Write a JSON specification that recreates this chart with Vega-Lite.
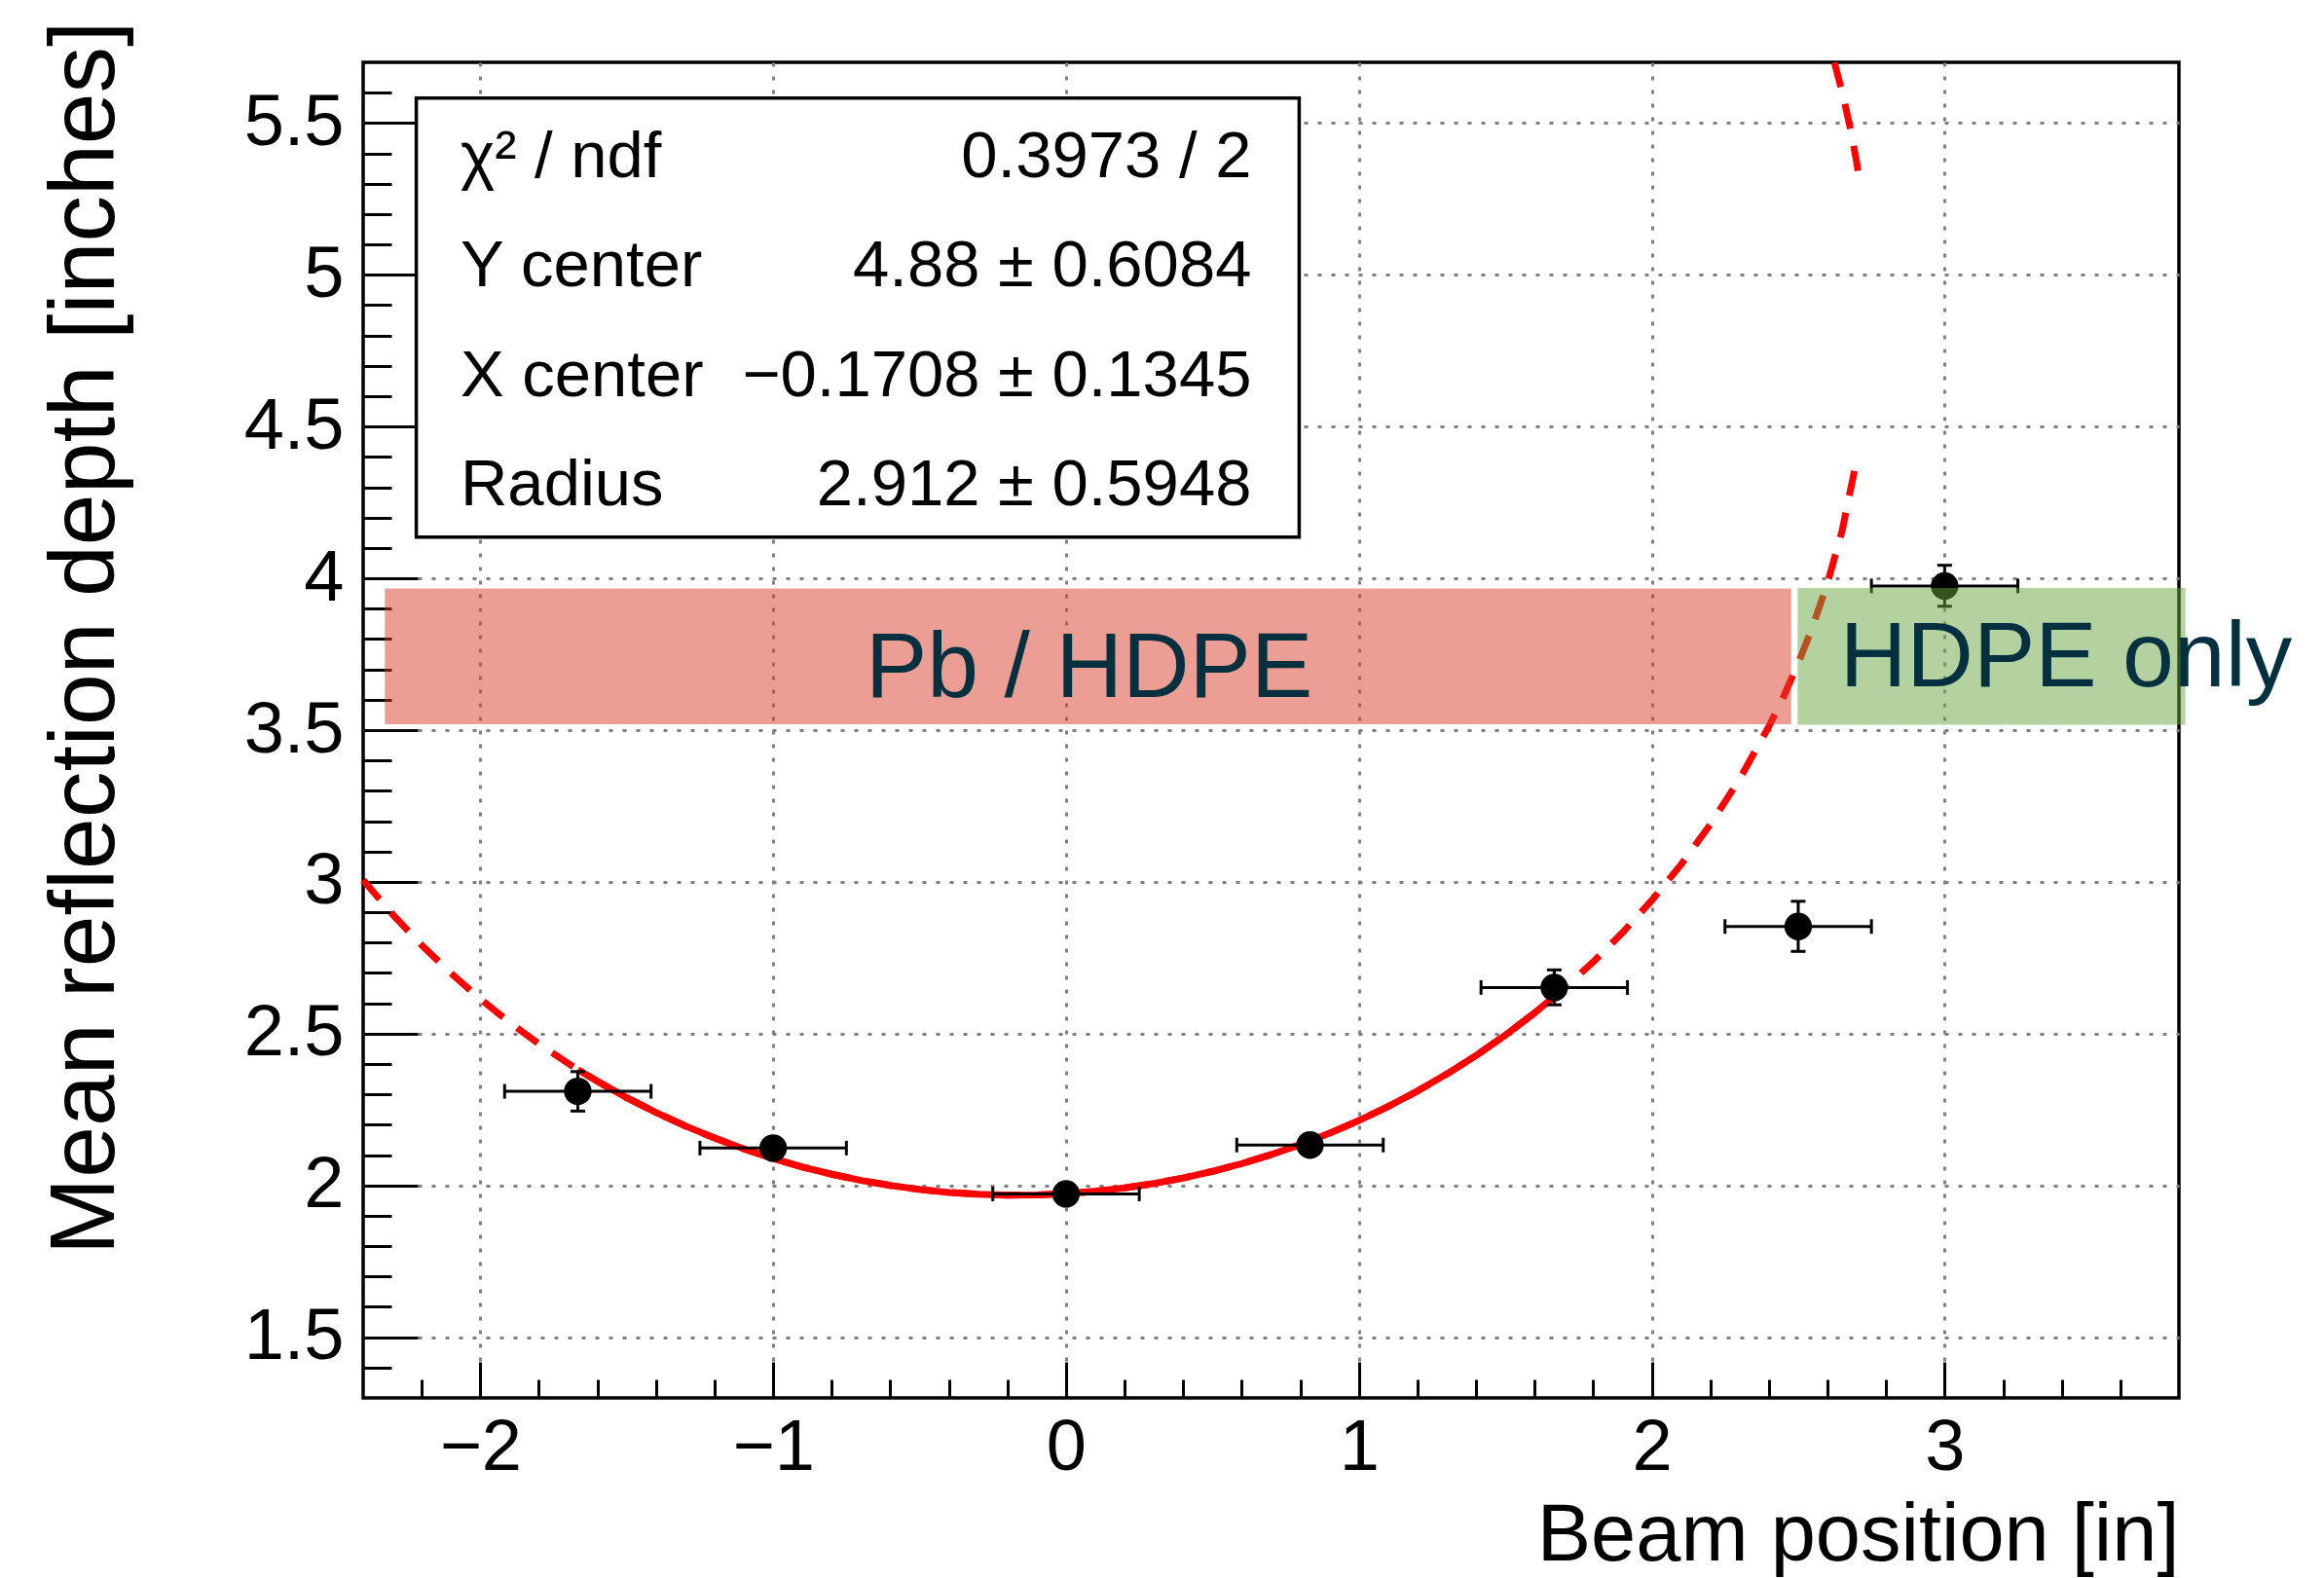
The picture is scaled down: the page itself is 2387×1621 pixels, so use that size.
{
  "$schema": "https://vega.github.io/schema/vega-lite/v6.json",
  "width": 1865,
  "height": 1372,
  "autosize": {"type": "none"},
  "padding": {"left": 373, "top": 64, "right": 149, "bottom": 185},
  "background": "white",
  "config": {"view": {"stroke": "black", "strokeWidth": 3.5}, "font": "Liberation Sans"},
  "datasets": {
    "points": [
      {"x": -1.667, "y": 2.310, "xlo": -1.917, "xhi": -1.417, "ylo": 2.245, "yhi": 2.375},
      {"x": -1.0, "y": 2.123, "xlo": -1.25, "xhi": -0.75, "ylo": 2.093, "yhi": 2.153},
      {"x": 0.0, "y": 1.972, "xlo": -0.25, "xhi": 0.25, "ylo": 1.942, "yhi": 2.002},
      {"x": 0.833, "y": 2.133, "xlo": 0.583, "xhi": 1.083, "ylo": 2.103, "yhi": 2.163},
      {"x": 1.667, "y": 2.652, "xlo": 1.417, "xhi": 1.917, "ylo": 2.595, "yhi": 2.710},
      {"x": 2.5, "y": 2.853, "xlo": 2.25, "xhi": 2.75, "ylo": 2.771, "yhi": 2.936},
      {"x": 3.0, "y": 3.975, "xlo": 2.75, "xhi": 3.25, "ylo": 3.908, "yhi": 4.043}
    ],
    "curve": [
      {"x": -2.4, "y": 3.00639, "seg": "lower"},
      {"x": -2.3, "y": 2.89348, "seg": "lower"},
      {"x": -2.2, "y": 2.79144, "seg": "lower"},
      {"x": -2.1, "y": 2.69873, "seg": "lower"},
      {"x": -2.0, "y": 2.61422, "seg": "lower"},
      {"x": -1.9, "y": 2.53701, "seg": "lower"},
      {"x": -1.8, "y": 2.46640, "seg": "lower"},
      {"x": -1.7, "y": 2.40184, "seg": "lower"},
      {"x": -1.667, "y": 2.38178, "seg": "lower"},
      {"x": -1.6, "y": 2.34285, "seg": "lower"},
      {"x": -1.5, "y": 2.28906, "seg": "lower"},
      {"x": -1.4, "y": 2.24015, "seg": "lower"},
      {"x": -1.3, "y": 2.19585, "seg": "lower"},
      {"x": -1.2, "y": 2.15594, "seg": "lower"},
      {"x": -1.1, "y": 2.12023, "seg": "lower"},
      {"x": -1.0, "y": 2.08856, "seg": "lower"},
      {"x": -0.9, "y": 2.06078, "seg": "lower"},
      {"x": -0.8, "y": 2.03679, "seg": "lower"},
      {"x": -0.7, "y": 2.01649, "seg": "lower"},
      {"x": -0.6, "y": 1.99980, "seg": "lower"},
      {"x": -0.5, "y": 1.98666, "seg": "lower"},
      {"x": -0.4, "y": 1.97703, "seg": "lower"},
      {"x": -0.3, "y": 1.97087, "seg": "lower"},
      {"x": -0.2, "y": 1.96815, "seg": "lower"},
      {"x": -0.1, "y": 1.96886, "seg": "lower"},
      {"x": 0.0, "y": 1.97301, "seg": "lower"},
      {"x": 0.1, "y": 1.98062, "seg": "lower"},
      {"x": 0.2, "y": 1.99170, "seg": "lower"},
      {"x": 0.3, "y": 2.00631, "seg": "lower"},
      {"x": 0.4, "y": 2.02449, "seg": "lower"},
      {"x": 0.5, "y": 2.04632, "seg": "lower"},
      {"x": 0.6, "y": 2.07187, "seg": "lower"},
      {"x": 0.7, "y": 2.10125, "seg": "lower"},
      {"x": 0.8, "y": 2.13459, "seg": "lower"},
      {"x": 0.9, "y": 2.17202, "seg": "lower"},
      {"x": 1.0, "y": 2.21373, "seg": "lower"},
      {"x": 1.1, "y": 2.25992, "seg": "lower"},
      {"x": 1.2, "y": 2.31083, "seg": "lower"},
      {"x": 1.3, "y": 2.36674, "seg": "lower"},
      {"x": 1.4, "y": 2.42800, "seg": "lower"},
      {"x": 1.5, "y": 2.49501, "seg": "lower"},
      {"x": 1.6, "y": 2.56829, "seg": "lower"},
      {"x": 1.7, "y": 2.64845, "seg": "lower"},
      {"x": 1.8, "y": 2.73624, "seg": "lower"},
      {"x": 1.9, "y": 2.83268, "seg": "lower"},
      {"x": 2.0, "y": 2.93903, "seg": "lower"},
      {"x": 2.1, "y": 3.05703, "seg": "lower"},
      {"x": 2.2, "y": 3.18912, "seg": "lower"},
      {"x": 2.3, "y": 3.33893, "seg": "lower"},
      {"x": 2.4, "y": 3.51225, "seg": "lower"},
      {"x": 2.45, "y": 3.61069, "seg": "lower"},
      {"x": 2.5, "y": 3.71958, "seg": "lower"},
      {"x": 2.55, "y": 3.84222, "seg": "lower"},
      {"x": 2.6, "y": 3.98423, "seg": "lower"},
      {"x": 2.65, "y": 4.15693, "seg": "lower"},
      {"x": 2.7, "y": 4.39189, "seg": "lower"},
      {"x": 2.6235, "y": 5.6995, "seg": "upper"},
      {"x": 2.65, "y": 5.60307, "seg": "upper"},
      {"x": 2.68, "y": 5.47387, "seg": "upper"},
      {"x": 2.7, "y": 5.36811, "seg": "upper"},
      {"x": 2.708, "y": 5.31847, "seg": "upper"}
    ],
    "regions": [
      {"name": "Pb / HDPE", "x1": -2.326, "x2": 2.476, "y1": 3.519, "y2": 3.967},
      {"name": "HDPE only", "x1": 2.498, "x2": 3.822, "y1": 3.518, "y2": 3.968}
    ],
    "regionText": [
      {"text": "Pb / HDPE", "x": -0.6846, "y": 3.6106},
      {"text": "HDPE only", "x": 2.642, "y": 3.6453}
    ],
    "statbox": [
      {"x1": -2.2185, "x2": 0.7961, "y1": 4.1359, "y2": 5.5823}
    ],
    "stats": [
      {"label": "χ² / ndf", "value": "0.3973 / 2", "y": 5.3225},
      {"label": "Y center", "value": "4.88 ± 0.6084", "y": 4.9624},
      {"label": "X center", "value": "−0.1708 ± 0.1345", "y": 4.6016},
      {"label": "Radius", "value": "2.912 ± 0.5948", "y": 4.2408}
    ]
  },
  "resolve": {"axis": {"x": "independent", "y": "independent"}},
  "layer": [
    {
      "data": {"name": "curve"},
      "mark": {"type": "line", "color": "#ff0000", "strokeWidth": 7, "strokeDash": [26, 18]},
      "encoding": {
        "x": {"field": "x", "type": "quantitative", "scale": {"domain": [-2.4, 3.8], "nice": false, "zero": false},
          "axis": {"orient": "bottom", "values": [-2, -1, 0, 1, 2, 3], "labelExpr": "format(datum.value, '~g')",
            "tickSize": -37, "tickWidth": 3, "tickColor": "black", "labelFontSize": 74, "labelColor": "black",
            "labelFont": "Liberation Sans", "labelPadding": 52, "labelFlush": false, "labelOverlap": false,
            "domain": false, "grid": true, "gridColor": "#808080", "gridDash": [4, 10], "gridWidth": 3, "gridOpacity": 1,
            "title": "Beam position [in]", "titleFont": "Liberation Sans", "titleFontSize": 83, "titleFontWeight": "normal",
            "titleColor": "black", "titleAlign": "right", "titleBaseline": "alphabetic", "titleX": 1865, "titleY": 166}},
        "y": {"field": "y", "type": "quantitative", "scale": {"domain": [1.3, 5.7], "nice": false, "zero": false},
          "axis": {"orient": "left", "values": [1.5, 2, 2.5, 3, 3.5, 4, 4.5, 5, 5.5], "labelExpr": "format(datum.value, '~g')",
            "tickSize": -56, "tickWidth": 3, "tickColor": "black", "labelFontSize": 74, "labelColor": "black",
            "labelFont": "Liberation Sans", "labelPadding": 76, "labelFlush": false, "labelOverlap": false,
            "domain": false, "grid": true, "gridColor": "#808080", "gridDash": [4, 10], "gridWidth": 3, "gridOpacity": 1,
            "title": "Mean reflection depth [inches]", "titleFont": "Liberation Sans", "titleFontSize": 95, "titleFontWeight": "normal",
            "titleColor": "black", "titleAngle": -90, "titleAlign": "right", "titleBaseline": "alphabetic", "titleX": -257, "titleY": -43}},
        "detail": {"field": "seg", "type": "nominal"}
      }
    },
    {
      "data": {"name": "curve"},
      "transform": [{"filter": "datum.seg == 'lower' && datum.x >= -1.667 && datum.x <= 1.7"}],
      "mark": {"type": "line", "color": "#ff0000", "strokeWidth": 7},
      "encoding": {
        "x": {"field": "x", "type": "quantitative", "scale": {"domain": [-2.4, 3.8], "nice": false, "zero": false},
          "axis": {"orient": "bottom", "values": [-2.2, -1.8, -1.6, -1.4, -1.2, -0.8, -0.6, -0.4, -0.2, 0.2, 0.4, 0.6, 0.8, 1.2, 1.4, 1.6, 1.8, 2.2, 2.4, 2.6, 2.8, 3.2, 3.4, 3.6],
            "tickSize": -19, "tickWidth": 3, "tickColor": "black", "labels": false, "domain": false, "grid": false, "title": null}},
        "y": {"field": "y", "type": "quantitative", "scale": {"domain": [1.3, 5.7], "nice": false, "zero": false},
          "axis": {"orient": "left", "values": [1.4, 1.6, 1.7, 1.8, 1.9, 2.1, 2.2, 2.3, 2.4, 2.6, 2.7, 2.8, 2.9, 3.1, 3.2, 3.3, 3.4, 3.6, 3.7, 3.8, 3.9, 4.1, 4.2, 4.3, 4.4, 4.6, 4.7, 4.8, 4.9, 5.1, 5.2, 5.3, 5.4, 5.6],
            "tickSize": -29, "tickWidth": 3, "tickColor": "black", "labels": false, "domain": false, "grid": false, "title": null}}
      }
    },
    {
      "data": {"name": "points"},
      "mark": {"type": "rule", "color": "black", "strokeWidth": 3},
      "encoding": {
        "x": {"field": "xlo", "type": "quantitative", "scale": {"domain": [-2.4, 3.8], "nice": false, "zero": false}, "axis": null},
        "x2": {"field": "xhi"},
        "y": {"field": "y", "type": "quantitative", "scale": {"domain": [1.3, 5.7], "nice": false, "zero": false}, "axis": null}
      }
    },
    {
      "data": {"name": "points"},
      "mark": {"type": "rule", "color": "black", "strokeWidth": 3},
      "encoding": {
        "x": {"field": "x", "type": "quantitative", "scale": {"domain": [-2.4, 3.8], "nice": false, "zero": false}, "axis": null},
        "y": {"field": "ylo", "type": "quantitative", "scale": {"domain": [1.3, 5.7], "nice": false, "zero": false}, "axis": null},
        "y2": {"field": "yhi"}
      }
    },
    {
      "data": {"name": "points"},
      "transform": [{"fold": ["xlo", "xhi"], "as": ["k", "xe"]}],
      "mark": {"type": "tick", "orient": "vertical", "color": "black", "size": 15, "thickness": 3, "opacity": 1},
      "encoding": {
        "x": {"field": "xe", "type": "quantitative", "scale": {"domain": [-2.4, 3.8], "nice": false, "zero": false}, "axis": null},
        "y": {"field": "y", "type": "quantitative", "scale": {"domain": [1.3, 5.7], "nice": false, "zero": false}, "axis": null}
      }
    },
    {
      "data": {"name": "points"},
      "transform": [{"fold": ["ylo", "yhi"], "as": ["k", "ye"]}],
      "mark": {"type": "tick", "orient": "horizontal", "color": "black", "size": 15, "thickness": 3, "opacity": 1},
      "encoding": {
        "x": {"field": "x", "type": "quantitative", "scale": {"domain": [-2.4, 3.8], "nice": false, "zero": false}, "axis": null},
        "y": {"field": "ye", "type": "quantitative", "scale": {"domain": [1.3, 5.7], "nice": false, "zero": false}, "axis": null}
      }
    },
    {
      "data": {"name": "points"},
      "mark": {"type": "point", "shape": "circle", "filled": true, "color": "black", "size": 800, "opacity": 1, "strokeWidth": 0},
      "encoding": {
        "x": {"field": "x", "type": "quantitative", "scale": {"domain": [-2.4, 3.8], "nice": false, "zero": false}, "axis": null},
        "y": {"field": "y", "type": "quantitative", "scale": {"domain": [1.3, 5.7], "nice": false, "zero": false}, "axis": null}
      }
    },
    {
      "data": {"name": "regions"},
      "mark": {"type": "rect", "fillOpacity": 0.5, "strokeWidth": 0},
      "encoding": {
        "x": {"field": "x1", "type": "quantitative", "scale": {"domain": [-2.4, 3.8], "nice": false, "zero": false}, "axis": null},
        "x2": {"field": "x2"},
        "y": {"field": "y1", "type": "quantitative", "scale": {"domain": [1.3, 5.7], "nice": false, "zero": false}, "axis": null},
        "y2": {"field": "y2"},
        "fill": {"field": "name", "type": "nominal", "scale": {"domain": ["Pb / HDPE", "HDPE only"], "range": ["#db3d29", "#69a541"]}, "legend": null}
      }
    },
    {
      "data": {"name": "regionText"},
      "mark": {"type": "text", "align": "left", "baseline": "alphabetic", "font": "Liberation Sans", "fontSize": 95, "color": "#05303f"},
      "encoding": {
        "x": {"field": "x", "type": "quantitative", "scale": {"domain": [-2.4, 3.8], "nice": false, "zero": false}, "axis": null},
        "y": {"field": "y", "type": "quantitative", "scale": {"domain": [1.3, 5.7], "nice": false, "zero": false}, "axis": null},
        "text": {"field": "text"}
      }
    },
    {
      "data": {"name": "statbox"},
      "mark": {"type": "rect", "fill": "white", "stroke": "black", "strokeWidth": 3.5},
      "encoding": {
        "x": {"field": "x1", "type": "quantitative", "scale": {"domain": [-2.4, 3.8], "nice": false, "zero": false}, "axis": null},
        "x2": {"field": "x2"},
        "y": {"field": "y1", "type": "quantitative", "scale": {"domain": [1.3, 5.7], "nice": false, "zero": false}, "axis": null},
        "y2": {"field": "y2"}
      }
    },
    {
      "data": {"name": "stats"},
      "mark": {"type": "text", "align": "left", "baseline": "alphabetic", "font": "Liberation Sans", "fontSize": 67, "color": "black"},
      "encoding": {
        "x": {"datum": -2.0676, "type": "quantitative", "scale": {"domain": [-2.4, 3.8], "nice": false, "zero": false}, "axis": null},
        "y": {"field": "y", "type": "quantitative", "scale": {"domain": [1.3, 5.7], "nice": false, "zero": false}, "axis": null},
        "text": {"field": "label"}
      }
    },
    {
      "data": {"name": "stats"},
      "mark": {"type": "text", "align": "right", "baseline": "alphabetic", "font": "Liberation Sans", "fontSize": 67, "color": "black"},
      "encoding": {
        "x": {"datum": 0.6332, "type": "quantitative", "scale": {"domain": [-2.4, 3.8], "nice": false, "zero": false}, "axis": null},
        "y": {"field": "y", "type": "quantitative", "scale": {"domain": [1.3, 5.7], "nice": false, "zero": false}, "axis": null},
        "text": {"field": "value"}
      }
    }
  ]
}
